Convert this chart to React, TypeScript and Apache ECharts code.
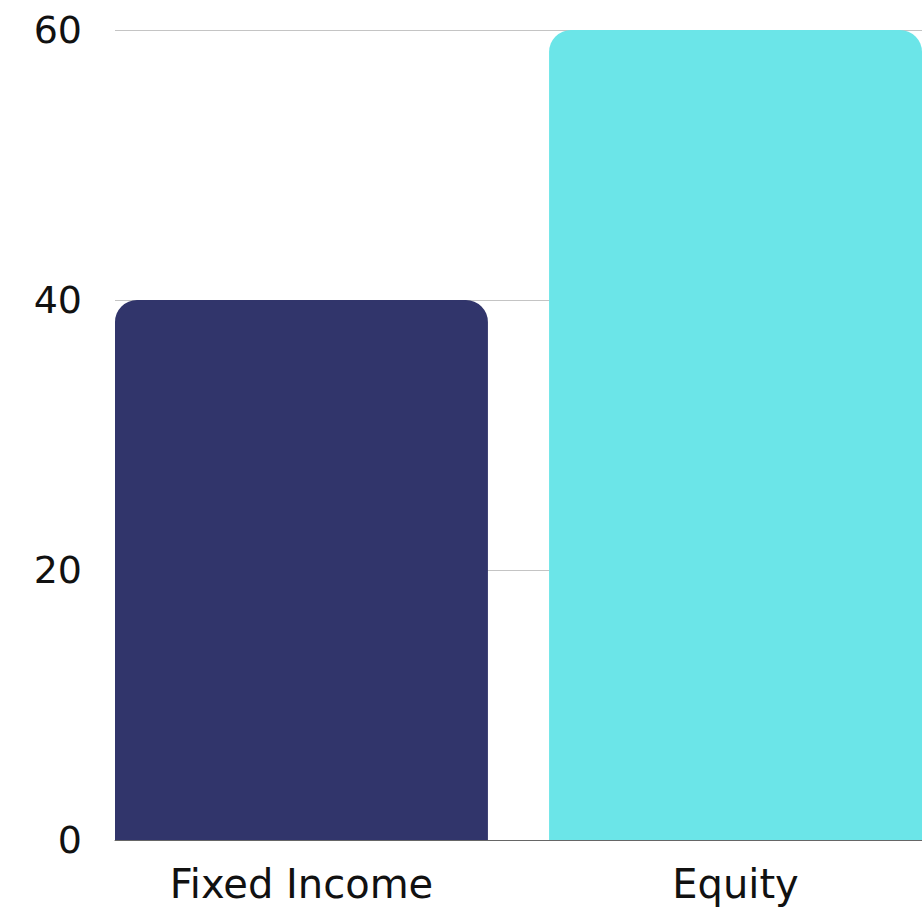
import React, { useEffect, useRef } from "react";
import * as echarts from "echarts";

const categories = ["Fixed Income", "Equity"];
const values = [40, 60];
const colors = ["#31356B", "#6BE5E8"];
const yTicks = [0, 20, 40, 60];

export default function App() {
  const ref = useRef<HTMLDivElement>(null);
  useEffect(() => {
    if (!ref.current) return;
    const chart = echarts.init(ref.current, undefined, { renderer: "svg" });
    const font = "'DejaVu Sans', sans-serif";
    chart.setOption({
      animation: false,
      grid: { left: 115, right: 0, top: 30, bottom: 68 },
      xAxis: {
        type: "category",
        data: [""],
        axisLine: { show: true, lineStyle: { color: "#666666", width: 1 } },
        axisTick: { show: false },
        axisLabel: { show: false },
      },
      yAxis: {
        type: "value",
        min: yTicks[0],
        max: yTicks[yTicks.length - 1],
        interval: yTicks[1] - yTicks[0],
        axisLine: { show: false },
        axisTick: { show: false },
        axisLabel: { color: "#111111", fontSize: 38, fontFamily: font, margin: 33 },
        splitLine: { lineStyle: { color: "#C4C4C4", width: 1 } },
      },
      series: categories.map((c, i) => ({
        type: "bar",
        name: c,
        data: [values[i]],
        barGap: "16.4%",
        barCategoryGap: 0,
        itemStyle: { color: colors[i], borderRadius: [22, 22, 0, 0] },
        label: {
          show: true,
          position: "bottom",
          distance: 24,
          formatter: "{a}",
          color: "#111111",
          fontSize: 40,
          fontFamily: font,
        },
      })),
    });
    return () => chart.dispose();
  }, []);
  return (
    <div
      ref={ref}
      style={{ position: "fixed", left: 0, top: 0, width: 922, height: 908, background: "#ffffff" }}
    />
  );
}
